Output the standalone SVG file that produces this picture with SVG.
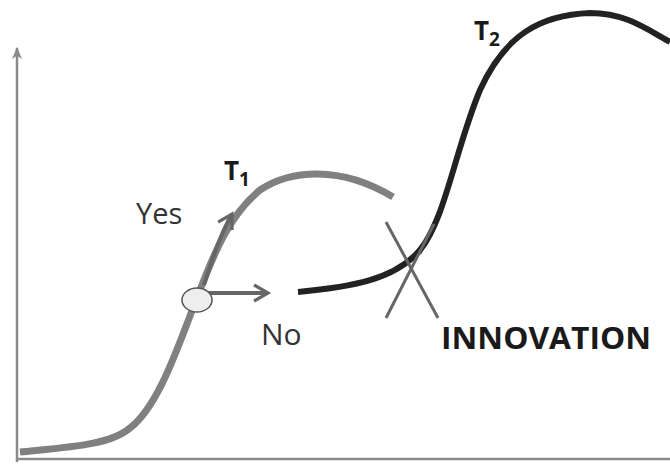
<svg xmlns="http://www.w3.org/2000/svg" width="670" height="464" viewBox="0 0 670 464">
<defs>
<style>
.axis{stroke:#8a8a8a;stroke-width:2.5;fill:none}
.t1{stroke:#808080;stroke-width:7;fill:none}
.t2{stroke:#222;stroke-width:6;fill:none}
.arr{stroke:#666;stroke-width:4;fill:none}
.x{stroke:#666;stroke-width:3;fill:none}
.lbl{font-family:"Open Sans","Liberation Sans",sans-serif;fill:#333}
.b{font-family:"Open Sans","Liberation Sans",sans-serif;font-weight:bold;fill:#1a1a1a}
</style>
<marker id="ah" viewBox="0 0 10 10" refX="8" refY="5" markerWidth="5" markerHeight="5" orient="auto" markerUnits="strokeWidth">
<path d="M1,1 L8,5 L1,9" fill="none" stroke="#666" stroke-width="1.6"/>
</marker>
<marker id="axh" viewBox="0 0 10 10" refX="9" refY="5" markerWidth="5" markerHeight="5" orient="auto" markerUnits="strokeWidth">
<path d="M0,1 L10,5 L0,9 L3,5 Z" fill="#8a8a8a"/>
</marker>
</defs>
<g id="axes">
<line class="axis" x1="17" y1="462" x2="17" y2="48" marker-end="url(#axh)"/>
<line class="axis" x1="17" y1="459" x2="670" y2="459"/>
</g>
<g id="curve-t1">
<path class="t1" d="M20,452 C70,447 110,445 130,428 C160,405 180,340 197,298 C215,250 230,215 260,190 C290,170 340,165 393,197"/>
<line x1="434" y1="222" x2="420" y2="254" stroke="#888" stroke-width="3"/>
</g>
<g id="curve-t2">
<path class="t2" d="M298,292 C350,287 395,280 420,250 C445,220 455,150 480,90 C505,35 540,15 590,13 C625,13 645,28 670,42"/>
</g>
<g id="connectors">
<path class="arr" d="M204,285 C212,260 220,235 232,214" marker-end="url(#ah)"/>
<line class="arr" x1="207" y1="293" x2="268" y2="293" marker-end="url(#ah)"/>
<line class="x" x1="386" y1="222" x2="438" y2="318"/>
<line class="x" x1="386" y1="318" x2="434" y2="224"/>
</g>
<g id="node-choice">
<ellipse cx="197" cy="300" rx="15" ry="12" fill="#eee" stroke="#555" stroke-width="1.5"/>
</g>
<g id="labels">
<text class="b" x="224" y="180" font-size="26">T<tspan font-size="19" dy="6">1</tspan></text>
<text class="b" x="474" y="40" font-size="26">T<tspan font-size="19" dy="6">2</tspan></text>
<text class="lbl" x="136" y="224" font-size="29">Yes</text>
<text class="lbl" x="261" y="345" font-size="30">No</text>
<text class="b" x="441" y="349" font-size="30" textLength="210" lengthAdjust="spacingAndGlyphs">INNOVATION</text>
</g>
</svg>
